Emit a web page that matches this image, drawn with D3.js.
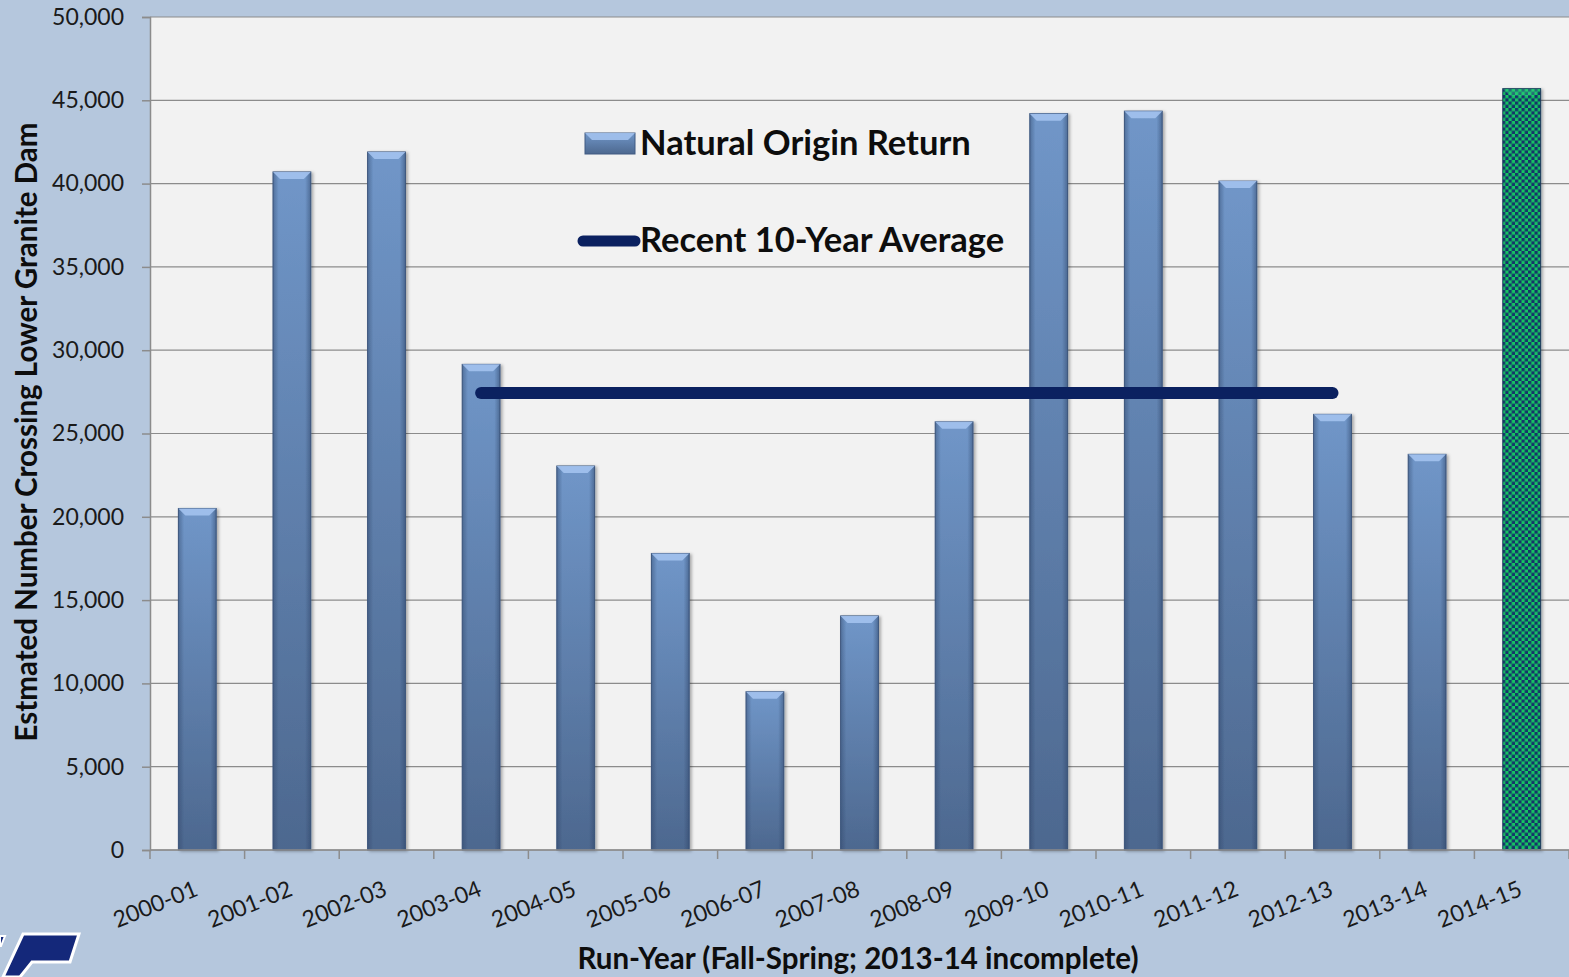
<!DOCTYPE html>
<html>
<head>
<meta charset="utf-8">
<script src="https://cdn.jsdelivr.net/npm/d3@7"></script>
<style>
  body { margin: 0; background: #b5c7dd; }
  svg { display: block; font-family: Lato, "Open Sans", sans-serif; }
  .axis text { fill: #1a1a1a; }
</style>
</head>
<body>
<div id="chart"></div>
<script>
// data
const runYears = ["2000-01","2001-02","2002-03","2003-04","2004-05","2005-06","2006-07","2007-08",
  "2008-09","2009-10","2010-11","2011-12","2012-13","2013-14","2014-15"];
const naturalReturn = [20500, 40700, 41900, 29150, 23050, 17800, 9500, 14050,
  25700, 44200, 44350, 40150, 26150, 23750, 45700];
const incompleteYear = "2014-15";
const avgValue = 27430;
const avgSpan = ["2003-04", "2012-13"];
const yTicks = [0, 5000, 10000, 15000, 20000, 25000, 30000, 35000, 40000, 45000, 50000];

/* layout */
const W = 1569, H = 977;
const margin = {top: 17, right: 0, bottom: 127, left: 150};
const width = W - margin.left - margin.right;
const height = H - margin.top - margin.bottom;

const root = d3.select("#chart").append("svg")
  .attr("width", W)
  .attr("height", H);

/* gradients + pattern */
const defs = root.append("defs");
const barGrad = defs.append("linearGradient")
  .attr("id", "barGrad").attr("x1", 0).attr("y1", 0).attr("x2", 0).attr("y2", 1);
barGrad.append("stop").attr("offset", "0%").attr("stop-color", "#7096c8");
barGrad.append("stop").attr("offset", "100%").attr("stop-color", "#4d688f");

const sideGrad = defs.append("linearGradient")
  .attr("id", "sideGrad").attr("x1", 0).attr("y1", 0).attr("x2", 1).attr("y2", 0);
sideGrad.append("stop").attr("offset", "0%").attr("stop-color", "#2c4266").attr("stop-opacity", 0.45);
sideGrad.append("stop").attr("offset", "15%").attr("stop-color", "#2c4266").attr("stop-opacity", 0);
sideGrad.append("stop").attr("offset", "85%").attr("stop-color", "#2c4266").attr("stop-opacity", 0);
sideGrad.append("stop").attr("offset", "100%").attr("stop-color", "#2c4266").attr("stop-opacity", 0.5);

const checker = defs.append("pattern")
  .attr("id", "checker").attr("patternUnits", "userSpaceOnUse")
  .attr("width", 6.5).attr("height", 6.5);
checker.append("rect").attr("width", 6.5).attr("height", 6.5).attr("fill", "#14c462");
checker.append("rect").attr("width", 3.25).attr("height", 3.25).attr("fill", "#17306a");
checker.append("rect").attr("x", 3.25).attr("y", 3.25).attr("width", 3.25).attr("height", 3.25).attr("fill", "#17306a");

const shadow = defs.append("filter").attr("id", "shadow")
  .attr("x", "-30%").attr("y", "-5%").attr("width", "160%").attr("height", "110%");
shadow.append("feDropShadow").attr("dx", 2).attr("dy", 1).attr("stdDeviation", 1.5)
  .attr("flood-color", "#000").attr("flood-opacity", 0.3);

const svg = root.append("g")
  .attr("transform", `translate(${margin.left},${margin.top})`);

/* plot background */
svg.append("rect")
  .attr("width", width).attr("height", height)
  .attr("fill", "#f2f2f2");

/* scales */
const xScale = d3.scaleBand()
  .domain(runYears)
  .range([0, width])
  .paddingInner(0.6)
  .paddingOuter(0.3);

const xBand = d3.scaleBand().domain(runYears).range([0, width]);

const yScale = d3.scaleLinear()
  .domain([0, 50000])
  .range([height, 0]);

/* grid lines */
svg.append("g")
  .selectAll("line")
  .data(yTicks)
  .join("line")
    .attr("x1", 0).attr("x2", width)
    .attr("y1", d => yScale(d)).attr("y2", d => yScale(d))
    .attr("stroke", "#8c8c8c").attr("stroke-width", 1.2);

/* y axis */
const yAxis = d3.axisLeft(yScale)
  .tickValues(yTicks)
  .tickSize(8)
  .tickPadding(18)
  .tickFormat(d3.format(","));

svg.append("g")
  .attr("class", "axis yAxis")
  .call(yAxis)
  .call(g => g.selectAll("line, path").attr("stroke", "#8c8c8c").attr("stroke-width", 1.5))
  .call(g => g.selectAll("text").attr("font-size", 23).attr("font-family", "Lato"));

/* bars */
const bars = svg.append("g").selectAll("g.bar")
  .data(runYears.map((d, i) => ({year: d, value: naturalReturn[i]})))
  .join("g")
    .attr("class", "bar")
    .attr("filter", "url(#shadow)");

bars.append("rect")
  .attr("x", d => xScale(d.year))
  .attr("y", d => yScale(d.value))
  .attr("width", xScale.bandwidth())
  .attr("height", d => height - yScale(d.value))
  .attr("fill", d => d.year === incompleteYear ? "url(#checker)" : "url(#barGrad)")
  .attr("stroke", d => d.year === incompleteYear ? "#1c3a5c" : "#415b82")
  .attr("stroke-width", 1);

bars.filter(d => d.year !== incompleteYear).append("rect")
  .attr("x", d => xScale(d.year))
  .attr("y", d => yScale(d.value))
  .attr("width", xScale.bandwidth())
  .attr("height", d => height - yScale(d.value))
  .attr("fill", "url(#sideGrad)");

/* top bevel */
const bev = 7;
bars.append("path")
  .attr("d", d => {
    const x0 = xScale(d.year), x1 = x0 + xScale.bandwidth(), y0 = yScale(d.value);
    return `M${x0},${y0}L${x1},${y0}L${x1 - bev},${y0 + bev}L${x0 + bev},${y0 + bev}Z`;
  })
  .attr("fill", d => d.year === incompleteYear ? "#3ee08a" : "#a3c2ee")
  .attr("opacity", d => d.year === incompleteYear ? 0.35 : 0.9);

/* 10-year average line */
svg.append("line")
  .attr("x1", xScale(avgSpan[0]) + xScale.bandwidth() / 2)
  .attr("x2", xScale(avgSpan[1]) + xScale.bandwidth() / 2)
  .attr("y1", yScale(avgValue)).attr("y2", yScale(avgValue))
  .attr("stroke", "#0b2160")
  .attr("stroke-width", 12)
  .attr("stroke-linecap", "round");

/* x axis */
const xAxis = svg.append("g")
  .attr("class", "axis xAxis")
  .attr("transform", `translate(0,${height})`);

xAxis.append("line")
  .attr("x1", 0).attr("x2", width)
  .attr("stroke", "#8c8c8c").attr("stroke-width", 1.5);

xAxis.selectAll("line.tick")
  .data(runYears.concat(["end"]))
  .join("line")
    .attr("class", "tick")
    .attr("x1", (d, i) => i * xBand.step()).attr("x2", (d, i) => i * xBand.step())
    .attr("y1", 0).attr("y2", 9)
    .attr("stroke", "#8c8c8c").attr("stroke-width", 1.5);

xAxis.selectAll("text")
  .data(runYears)
  .join("text")
    .attr("transform", d => `translate(${xBand(d) + xBand.bandwidth() / 2 + 2},${45}) rotate(-22)`)
    .attr("text-anchor", "end")
    .attr("font-size", 23)
    .attr("fill", "#1a1a1a")
    .text(d => d);

/* axis titles */
root.append("text")
  .attr("transform", `translate(37,${432}) rotate(-90)`)
  .attr("text-anchor", "middle")
  .attr("font-size", 29.5)
  .attr("font-weight", "bold")
  .attr("fill", "#0d0d0d")
  .text("Estmated Number Crossing Lower Granite Dam");

root.append("text")
  .attr("x", 858).attr("y", 969)
  .attr("text-anchor", "middle")
  .attr("font-size", 29.5)
  .attr("font-weight", "bold")
  .attr("fill", "#0d0d0d")
  .text("Run-Year (Fall-Spring;  2013-14 incomplete)");

/* legend */
const legend = root.append("g");
legend.append("rect")
  .attr("x", 585).attr("y", 133).attr("width", 50).attr("height", 21)
  .attr("fill", "url(#barGrad)").attr("stroke", "#415b82");
legend.append("path")
  .attr("d", "M585,133L635,133L628,140L592,140Z")
  .attr("fill", "#a3c2ee").attr("opacity", 0.9);
legend.append("text")
  .attr("x", 640).attr("y", 155)
  .attr("font-size", 34.5).attr("font-weight", "bold").attr("fill", "#0d0d0d")
  .text("Natural Origin Return");

legend.append("line")
  .attr("x1", 583).attr("x2", 635).attr("y1", 241).attr("y2", 241)
  .attr("stroke", "#0b2160").attr("stroke-width", 11).attr("stroke-linecap", "round");
legend.append("text")
  .attr("x", 640).attr("y", 252)
  .attr("font-size", 34.5).attr("font-weight", "bold").attr("fill", "#0d0d0d")
  .text("Recent 10-Year Average");

/* partial logo, bottom left */
root.append("path")
  .attr("d", "M23,934L79,934L70,962L32,962L20,977L3,977Z")
  .attr("fill", "#14287a").attr("stroke", "#fff").attr("stroke-width", 3).attr("stroke-linejoin", "miter");
root.append("path")
  .attr("d", "M0,936L5,936L1,946L0,946Z")
  .attr("fill", "#14287a").attr("stroke", "#fff").attr("stroke-width", 2);
</script>
</body>
</html>
